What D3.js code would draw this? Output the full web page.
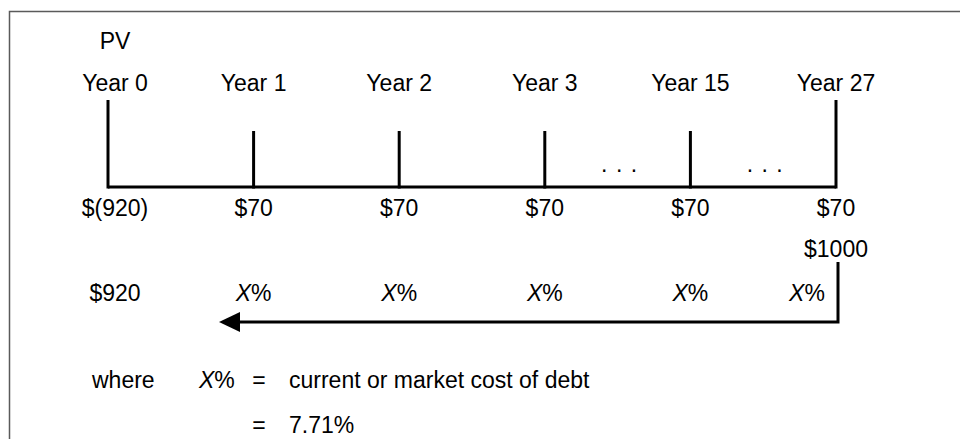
<!DOCTYPE html>
<html><head><meta charset="utf-8">
<script src="https://cdn.jsdelivr.net/npm/d3@7"></script>
<style>
html,body{margin:0;padding:0;background:#fff;}
svg{display:block;}
text{font-family:"Liberation Sans", Arial, Helvetica, sans-serif;font-size:23px;fill:#000;}
</style></head>
<body>
<script>
// ---- data ----
const years = ["Year 0", "Year 1", "Year 2", "Year 3", "Year 15", "Year 27"];
const cashFlows = ["$(920)", "$70", "$70", "$70", "$70", "$70"];
const tallTick = [true, false, false, false, false, true];
const gapAfter = ["Year 3", "Year 15"];           // "..." shown after these years
const rateYears = ["Year 1", "Year 2", "Year 3", "Year 15", "Year 27"];
const presentValue = "$920";
const faceValue = "$1000";
const pvLabel = "PV";
const noteLabel = "where";
const noteSymbol = "X";
const noteLines = ["current or market cost of debt", "7.71%"];

// ---- layout ----
const W = 960, H = 439;
const svg = d3.select("body").append("svg").attr("width", W).attr("height", H);

// frame (extends beyond right/bottom)
svg.append("rect").attr("x", 9.5).attr("y", 11.5).attr("width", 1000).attr("height", 500)
  .attr("fill", "none").attr("stroke", "#5a5a5a").attr("stroke-width", 1.5);

const x = d3.scalePoint().domain(years).range([108, 836]);
const baseY = 187;
const tick = d3.scaleOrdinal().domain([true, false]).range([100, 131]);

// baseline
svg.append("line").attr("x1", x(years[0])).attr("x2", x(years[years.length - 1]))
  .attr("y1", baseY).attr("y2", baseY).attr("stroke", "#000").attr("stroke-width", 3);

// ticks
svg.selectAll(".tick").data(years).join("line")
  .attr("x1", d => x(d)).attr("x2", d => x(d))
  .attr("y1", baseY + 1.5).attr("y2", (d, i) => tick(tallTick[i]))
  .attr("stroke", "#000").attr("stroke-width", 3);

// year labels
svg.selectAll(".yl").data(years).join("text")
  .attr("x", (d, i) => x(d) + (i === 0 ? 7 : 0)).attr("y", 91)
  .attr("text-anchor", "middle").text(d => d);

// PV label
svg.append("text").attr("x", x(years[0]) + 7).attr("y", 49).attr("text-anchor", "middle").text(pvLabel);

// cash flows
svg.selectAll(".cf").data(cashFlows).join("text")
  .attr("x", (d, i) => x(years[i]) + (i === 0 ? 7 : 0)).attr("y", 216)
  .attr("text-anchor", "middle").text(d => d);

// face value
svg.append("text").attr("x", x(years[years.length - 1])).attr("y", 257)
  .attr("text-anchor", "middle").text(faceValue);

// dots
svg.selectAll(".dots").data(gapAfter).join("text")
  .attr("x", d => { const i = years.indexOf(d); return (x(years[i]) + x(years[i + 1])) / 2 + 2; })
  .attr("y", 172).attr("text-anchor", "middle").style("font-size", "23px").style("letter-spacing", "1px")
  .text(". . .");

// rate row
const rowY = 301;
svg.append("text").attr("x", x(years[0]) + 7).attr("y", rowY).attr("text-anchor", "middle").text(presentValue);
const rt = svg.selectAll(".rate").data(rateYears).join("text")
  .attr("x", (d, i) => x(d) - (i === rateYears.length - 1 ? 29 : 0)).attr("y", rowY)
  .attr("text-anchor", "middle");
rt.append("tspan").style("font-style", "italic").text(noteSymbol);
rt.append("tspan").text("%");

// discounting arrow
const arrowX = x(years[years.length - 1]) + 2;
const arrowY = 322;
const tipX = 219;
svg.append("path")
  .attr("d", `M${arrowX},262 L${arrowX},${arrowY} L${tipX + 18},${arrowY}`)
  .attr("fill", "none").attr("stroke", "#000").attr("stroke-width", 3);
svg.append("path")
  .attr("d", `M${tipX},${arrowY} L${tipX + 21},${arrowY - 10} L${tipX + 21},${arrowY + 10} Z`)
  .attr("fill", "#000");

// note
const n1 = 388, n2 = 433;
svg.append("text").attr("x", 92).attr("y", n1).text(noteLabel);
const xs = svg.append("text").attr("x", 199).attr("y", n1);
xs.append("tspan").style("font-style", "italic").text(noteSymbol);
xs.append("tspan").text("%");
svg.selectAll(".eq").data(noteLines).join("text")
  .attr("x", 259).attr("y", (d, i) => i === 0 ? n1 : n2).attr("text-anchor", "middle").text("=");
svg.selectAll(".nl").data(noteLines).join("text")
  .attr("x", 289).attr("y", (d, i) => i === 0 ? n1 : n2).text(d => d);
</script>
</body></html>
